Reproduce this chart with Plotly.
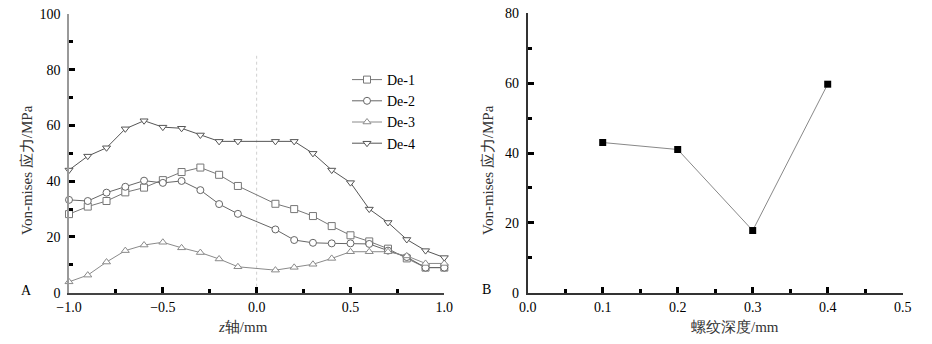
import plotly.graph_objects as go

# ---- data ----
z_pos = [-1.0, -0.9, -0.8, -0.7, -0.6, -0.5, -0.4, -0.3, -0.2, -0.1,
         0.1, 0.2, 0.3, 0.4, 0.5, 0.6, 0.7, 0.8, 0.9, 1.0]
de1 = [28.2, 30.9, 32.9, 36.0, 37.7, 40.4, 43.3, 44.9, 42.3, 38.3,
       31.9, 30.0, 27.5, 23.9, 20.6, 18.4, 15.8, 12.3, 9.0, 9.0]
de2 = [33.3, 32.9, 35.9, 38.0, 40.2, 39.4, 40.1, 36.8, 31.8, 28.3,
       22.7, 18.9, 17.9, 17.7, 17.7, 17.5, 15.1, 12.8, 9.0, 9.0]
de3 = [3.9, 6.3, 11.0, 15.1, 17.1, 18.1, 16.1, 14.4, 12.1, 9.3,
       8.1, 9.1, 10.2, 12.3, 14.7, 14.7, 14.7, 13.2, 10.5, 10.5]
de4 = [44.0, 49.0, 52.0, 58.8, 61.7, 59.4, 59.0, 56.6, 54.3, 54.3,
       54.3, 54.3, 50.0, 44.0, 39.5, 30.0, 25.2, 19.1, 15.1, 12.6]
series_names = ["De-1", "De-2", "De-3", "De-4"]

depth = [0.1, 0.2, 0.3, 0.4]
max_stress = [43.0, 41.0, 17.8, 59.7]

# ---- style ----
FONT = "Liberation Serif"
W, H = 932, 344
def fx(px): return px / W
def fy(py): return (H - py) / H

fig = go.Figure()

symbols = ["square", "circle", "triangle-up", "triangle-down"]
colors = ["#777777", "#666666", "#8a8a8a", "#555555"]
for name, ys, sym, col in zip(series_names, [de1, de2, de3, de4], symbols, colors):
    fig.add_trace(go.Scatter(
        x=z_pos, y=ys, mode="lines+markers", name=name,
        line=dict(color=col, width=1),
        marker=dict(symbol=sym, size=7, color="white", line=dict(width=1, color=col)),
        xaxis="x", yaxis="y", cliponaxis=False))

fig.add_trace(go.Scatter(
    x=depth, y=max_stress, mode="lines+markers", showlegend=False,
    line=dict(color="#888888", width=1),
    marker=dict(symbol="square", size=7, color="#000000"),
    xaxis="x2", yaxis="y2", cliponaxis=False))

tickfont = dict(family=FONT, size=14, color="#000")
common = dict(showgrid=False, zeroline=False, ticks="inside", tickcolor="#000",
              tickfont=tickfont, showline=True, mirror=False, automargin=False)

fig.update_layout(
    width=W, height=H, margin=dict(l=0, r=0, t=0, b=0, pad=0, autoexpand=False),
    plot_bgcolor="white", paper_bgcolor="white",
    font=dict(family=FONT, color="#000"),
    xaxis=dict(domain=[fx(69), fx(444.3)], range=[-1, 1], dtick=0.5, tick0=-1,
               tickformat=".1f", ticklen=6, tickwidth=3, ticklabelstandoff=0,
               linecolor="#444", linewidth=2,
               minor=dict(dtick=0.25, ticks="inside", ticklen=4, tickwidth=3, tickcolor="#000"),
               anchor="y", **common),
    yaxis=dict(domain=[fy(292.7), fy(14)], range=[0, 100], dtick=20,
               ticklen=6, tickwidth=3, ticklabelstandoff=4,
               linecolor="#999", linewidth=1.5,
               minor=dict(dtick=10, ticks="inside", ticklen=4, tickwidth=3, tickcolor="#000"),
               anchor="x", **common),
    xaxis2=dict(domain=[fx(527.7), fx(902.7)], range=[0, 0.5], dtick=0.1,
                tickformat=".1f", ticklen=6, tickwidth=3, ticklabelstandoff=0,
                linecolor="#333", linewidth=2,
                minor=dict(dtick=0.05, ticks="inside", ticklen=4, tickwidth=3, tickcolor="#000"),
                anchor="y2", **common),
    yaxis2=dict(domain=[fy(292.7), fy(13.3)], range=[0, 80], dtick=20,
                ticklen=6, tickwidth=3, ticklabelstandoff=4,
                linecolor="#333", linewidth=2,
                minor=dict(dtick=10, ticks="inside", ticklen=4, tickwidth=3, tickcolor="#000"),
                anchor="x2", **common),
    legend=dict(x=fx(347), y=fy(64), xanchor="left", yanchor="top",
                bgcolor="rgba(0,0,0,0)", font=dict(family=FONT, size=14, color="#000"),
                itemwidth=30, tracegroupgap=0),
    showlegend=True,
)

# dotted vertical line at z = 0
fig.add_shape(type="line", xref="x", yref="y", x0=0, x1=0, y0=0, y1=85,
              line=dict(color="#d0d0d0", width=1, dash="dot"), layer="below")

title_font = dict(family=FONT, size=15, color="#333")
def label(text, px, py, font, angle=0):
    fig.add_annotation(text=text, xref="paper", yref="paper", x=fx(px), y=fy(py),
                       xanchor="center", yanchor="middle", showarrow=False,
                       textangle=angle, font=font)

label("<i>z</i>轴/mm", 243, 327, title_font)
label("螺纹深度/mm", 735, 327, title_font)
label("Von-mises 应力/MPa", 27, 170, title_font, -90)
label("Von-mises 应力/MPa", 488, 170, title_font, -90)
label("A", 26, 290, dict(family=FONT, size=14, color="#000"))
label("B", 487, 289, dict(family=FONT, size=14, color="#000"))

fig.write_html("out.html")
